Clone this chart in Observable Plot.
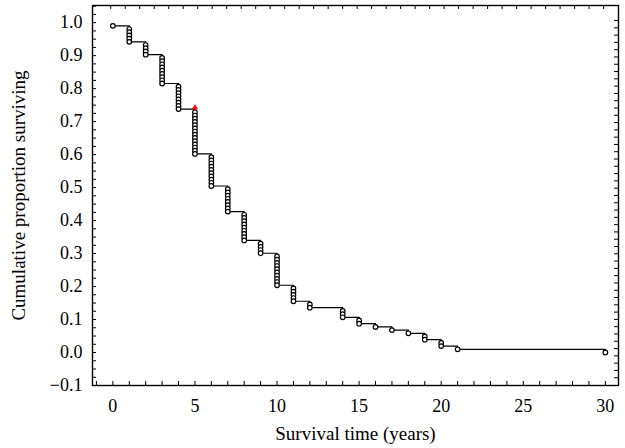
<!DOCTYPE html>
<html><head><meta charset="utf-8">
<script src="https://cdn.jsdelivr.net/npm/d3@7"></script>
<script src="https://cdn.jsdelivr.net/npm/@observablehq/plot@0.6"></script>
<style>html,body{margin:0;padding:0;background:#fff}</style>
</head><body><div id="chart"></div>
<script>
// Data (Kaplan–Meier style survival)
const totalPatients = 103;
const eventTimes = [0, 1, 2, 3, 4, 5, 6, 7, 8, 9, 10, 11, 12, 14, 15, 16, 17, 18, 19, 20, 21, 30];
const stillAlive = [102, 97, 93, 84, 76, 62, 52, 44, 35, 31, 21, 16, 14, 11, 9, 8, 7, 6, 4, 2, 1, 0];
const markTime = [5];
const markValue = [0.738];
const xTickLabels = [0, 5, 10, 15, 20, 25, 30];
const yTickLabels = [-0.1, 0, 0.1, 0.2, 0.3, 0.4, 0.5, 0.6, 0.7, 0.8, 0.9, 1.0];
const xTitle = "Survival time (years)";
const yTitle = "Cumulative proportion surviving";

// derived tables
const steps = eventTimes.map((t, i) => ({t, s: stillAlive[i] / totalPatients}));
const circles = [];
eventTimes.forEach((t, i) => {
  const prev = i === 0 ? totalPatients : stillAlive[i - 1];
  for (let k = prev - 1; k >= stillAlive[i]; k--) circles.push({t, s: k / totalPatients});
});
const marks = markTime.map((t, i) => ({t, s: markValue[i]}));

const xDom = [-1.24, 30.8], yDom = [-0.1, 1.052];
const W = 625, H = 448, mL = 92, mR = 7, mT = 5, mB = 63;
const xPerPx = (xDom[1] - xDom[0]) / (W - mL - mR);
const yPerPx = (yDom[1] - yDom[0]) / (H - mT - mB);
const tl = 4;
const bottomTicks = d3.range(-1, 31);
const leftTicks = d3.range(-4, 43).map(i => i * 0.025);
const topTicks = d3.range(0, 40).map(i => -0.13 + i * 0.883).filter(v => v < 30.7);
const rightTicks = d3.range(0, 60).map(i => 1.0065 - i * 0.0221).filter(v => v > -0.095);

const fmt = d => (d < 0 ? "\u2212" + Math.abs(d).toFixed(1) : d.toFixed(1));

const chart = Plot.plot({
  width: W, height: H, marginLeft: mL, marginRight: mR, marginTop: mT, marginBottom: mB,
  x: {domain: xDom}, y: {domain: yDom},
  style: {fontFamily: "Liberation Serif", fontSize: "18px", background: "white", color: "black"},
  marks: [
    Plot.axisX({ticks: xTickLabels, tickSize: 0, tickPadding: 14, label: null}),
    Plot.axisY({ticks: yTickLabels, tickSize: 0, tickPadding: 10, label: null, tickFormat: fmt}),
    Plot.ruleX(bottomTicks, {x: d => d, y1: yDom[0], y2: yDom[0] + tl * yPerPx, stroke: "black", strokeWidth: 1}),
    Plot.ruleX(topTicks, {x: d => d, y1: yDom[1], y2: yDom[1] - tl * yPerPx, stroke: "black", strokeWidth: 1}),
    Plot.ruleY(leftTicks, {y: d => d, x1: xDom[0], x2: xDom[0] + tl * xPerPx, stroke: "black", strokeWidth: 1}),
    Plot.ruleY(rightTicks, {y: d => d, x1: xDom[1], x2: xDom[1] - tl * xPerPx, stroke: "black", strokeWidth: 1}),
    Plot.frame({stroke: "black", strokeWidth: 1.4}),
    Plot.line(steps, {x: "t", y: "s", curve: "step-after", stroke: "black", strokeWidth: 1.2}),
    Plot.dot(circles, {x: "t", y: "s", r: 2.3, fill: "white", stroke: "black", strokeWidth: 1.2}),
    Plot.dot(marks, {x: "t", y: "s", r: 2, symbol: "triangle", fill: "red", stroke: "red", strokeWidth: 0.5, dy: -1.5}),
    Plot.text([xTitle], {text: d => d, frameAnchor: "bottom", textAnchor: "middle", dy: 54, fontSize: 19}),
    Plot.text([yTitle], {text: d => d, frameAnchor: "left", textAnchor: "middle", dx: -74, rotate: -90, fontSize: 19})
  ]
});
document.getElementById("chart").appendChild(chart);
</script>
</body></html>
